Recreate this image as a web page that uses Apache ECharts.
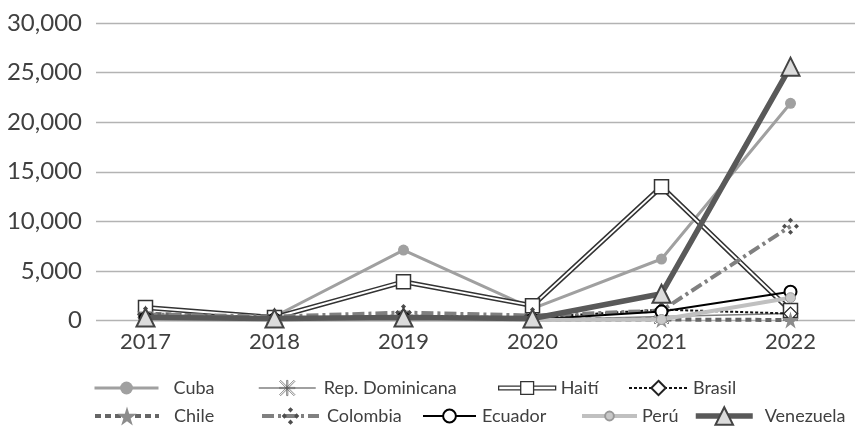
<!DOCTYPE html>
<html><head><meta charset="utf-8">
<script src="https://cdn.jsdelivr.net/npm/echarts@6/dist/echarts.min.js"></script>
<style>html,body{margin:0;padding:0;background:#fff}#c{width:855px;height:427px}</style>
</head><body><div id="c"></div>
<script>
const years = ['2017','2018','2019','2020','2021','2022'];
const yTicks = [0, 5000, 10000, 15000, 20000, 25000, 30000];
const cuba = [500, 400, 7100, 1200, 6200, 21900];
const repDominicana = [300, 100, 200, 50, 400, 700];
const haiti = [1300, 300, 3900, 1500, 13500, 1000];
const brasil = [400, 200, 500, 300, 1100, 700];
const chile = [700, 200, 300, 100, 100, 50];
const colombia = [600, 400, 800, 500, 1000, 9500];
const ecuador = [200, 100, 200, 100, 900, 2900];
const peru = [100, 50, 100, 50, 100, 2300];
const venezuela = [300, 200, 300, 200, 2700, 25600];

const FONT = 'Lato';
const starPath = 'path://M50,0 L61,35 L98,35 L68,57 L79,91 L50,70 L21,91 L32,57 L2,35 L39,35 Z';
const asteriskPath = 'path://M46,0H54V100H46Z M0,46H100V54H0Z M0,7L7,0L100,93L93,100Z M93,0L100,7L7,100L0,93Z';
const clusterPath = 'path://M50,0L65,15L50,30L35,15Z M15,35L30,50L15,65L0,50Z M85,35L100,50L85,65L70,50Z M50,70L65,85L50,100L35,85Z';
const haitiIcon = 'path://M0,6H24V10H0Z M24,1H38V15H24Z M38,6H62V10H38Z';

const chart = echarts.init(document.getElementById('c'), null, {renderer: 'canvas'});
const G = {top: 23, bottom: 106.5};
const ROW1 = 388, ROW2 = 416, LH = 30;

function legendAt(name, left, rowY, width, h, gap, extra) {
  return Object.assign({
    data: [name], left: left, top: rowY - LH / 2, itemWidth: width, itemHeight: h,
    selectedMode: false, padding: 0,
    lineStyle: {width: 'inherit', type: 'inherit'},
    textStyle: {fontFamily: FONT, fontSize: 18, lineHeight: LH, color: '#404040', padding: [0, 0, 0, gap]}
  }, extra || {});
}

chart.setOption({
  animation: false,
  grid: [
    {left: 96, right: 0, top: G.top, bottom: G.bottom},
    {left: 81, width: 781, top: G.top, bottom: G.bottom}
  ],
  xAxis: [
    {gridIndex: 0, type: 'category', data: years, show: false},
    {gridIndex: 1, type: 'category', data: years, boundaryGap: true,
     axisLine: {show: false}, axisTick: {show: false},
     axisLabel: {fontFamily: FONT, fontSize: 22, color: '#404040', margin: 10}}
  ],
  yAxis: [
    {gridIndex: 0, type: 'value', min: yTicks[0], max: yTicks[yTicks.length-1], interval: 5000,
     axisLine: {show: false}, axisTick: {show: false},
     splitLine: {lineStyle: {color: '#b3b3b3', width: 1.3}},
     axisLabel: {fontFamily: FONT, fontSize: 24, color: '#404040', margin: 14,
       formatter: v => v.toLocaleString('en-US')}},
    {gridIndex: 1, type: 'value', min: 0, max: 30000, show: false, splitLine: {show: false}}
  ],
  legend: [
    legendAt('Cuba', 93, ROW1, 64, 16, 10),
    legendAt('Rep. Dominicana', 258, ROW1, 57, 19, 3, {data: [{name: 'Rep. Dominicana',
      itemStyle: {color: '#fff', borderColor: '#555', borderWidth: 0.7}}]}),
    legendAt('Haití', 498, ROW1, 57, 16, 0, {data: [{name: 'Haití', icon: haitiIcon,
      itemStyle: {color: '#fff', borderColor: '#333', borderWidth: 1.3}}]}),
    legendAt('Brasil', 628, ROW1, 59, 18, 0),
    legendAt('Chile', 93, ROW2, 64, 24, 10),
    legendAt('Colombia', 260, ROW2, 57, 22, 3),
    legendAt('Ecuador', 422, ROW2, 53, 16, 1),
    legendAt('Perú', 580, ROW2, 55, 11, 0),
    legendAt('Venezuela', 693, ROW2, 57, 22, 7)
  ],
  series: [
    {name: 'Cuba', type: 'line', xAxisIndex: 1, yAxisIndex: 1, data: cuba, z: 2,
     lineStyle: {color: '#a0a0a0', width: 3}, symbol: 'circle', symbolSize: 11,
     itemStyle: {color: '#a0a0a0'}},
    {name: 'Rep. Dominicana', type: 'line', xAxisIndex: 1, yAxisIndex: 1, data: repDominicana, z: 3,
     lineStyle: {color: '#808080', width: 1.5}, symbol: asteriskPath, symbolSize: 15,
     itemStyle: {color: '#fff', borderColor: '#555', borderWidth: 0.7}},
    {name: 'Haití', type: 'line', xAxisIndex: 1, yAxisIndex: 1, data: haiti, z: 4,
     lineStyle: {color: '#333', width: 5}, symbol: 'none', itemStyle: {color: '#333'}},
    {name: 'Haití', type: 'line', xAxisIndex: 1, yAxisIndex: 1, data: haiti, z: 4,
     lineStyle: {color: '#fff', width: 2}, symbol: 'rect', symbolSize: 14,
     itemStyle: {color: '#fff', borderColor: '#333', borderWidth: 1.5}},
    {name: 'Brasil', type: 'line', xAxisIndex: 1, yAxisIndex: 1, data: brasil, z: 5,
     lineStyle: {color: '#111', width: 2, type: [3, 2]}, symbol: 'diamond', symbolSize: 13,
     itemStyle: {color: '#fff', borderColor: '#222', borderWidth: 1.2}},
    {name: 'Chile', type: 'line', xAxisIndex: 1, yAxisIndex: 1, data: chile, z: 6,
     lineStyle: {color: '#666', width: 4, type: [6, 4]}, symbol: starPath, symbolSize: 17,
     itemStyle: {color: '#8c8c8c'}},
    {name: 'Colombia', type: 'line', xAxisIndex: 1, yAxisIndex: 1, data: colombia, z: 7,
     lineStyle: {color: '#808080', width: 4, type: [12, 4, 3, 4]}, symbol: clusterPath, symbolSize: 17,
     itemStyle: {color: '#4d4d4d'}},
    {name: 'Ecuador', type: 'line', xAxisIndex: 1, yAxisIndex: 1, data: ecuador, z: 8,
     lineStyle: {color: '#000', width: 2}, symbol: 'circle', symbolSize: 12,
     itemStyle: {color: '#fff', borderColor: '#000', borderWidth: 2}},
    {name: 'Perú', type: 'line', xAxisIndex: 1, yAxisIndex: 1, data: peru, z: 9,
     lineStyle: {color: '#c0c0c0', width: 4}, symbol: 'circle', symbolSize: 10,
     itemStyle: {color: '#c8c8c8', borderColor: '#999', borderWidth: 1}},
    {name: 'Venezuela', type: 'line', xAxisIndex: 1, yAxisIndex: 1, data: venezuela, z: 10,
     lineStyle: {color: '#595959', width: 5.5}, symbol: 'triangle', symbolSize: 18,
     itemStyle: {color: '#dcdcdc', borderColor: '#444', borderWidth: 2}}
  ]
});
</script></body></html>
